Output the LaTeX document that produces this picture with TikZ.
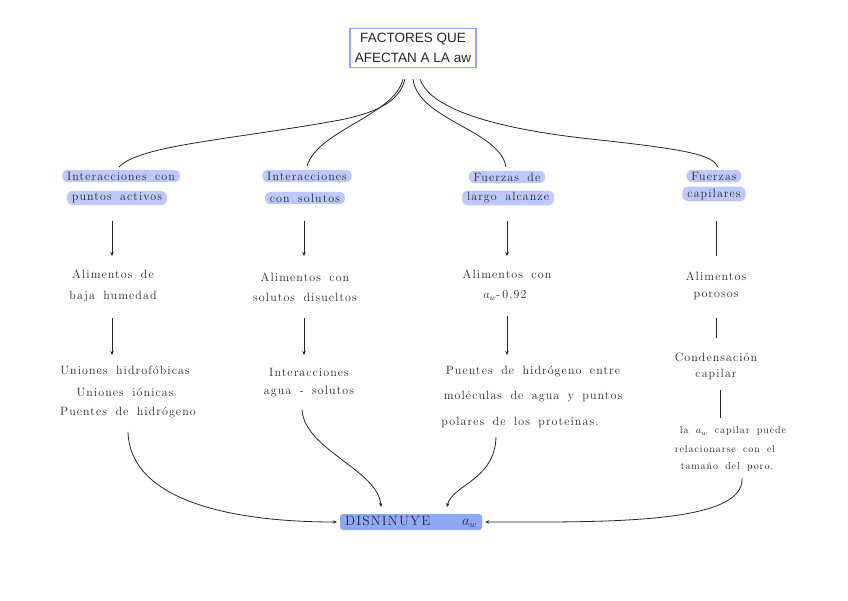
\documentclass[tikz,border=0pt]{standalone}
\usepackage{fontspec}
\newfontfamily\titlefont{Liberation Sans}
\newfontfamily\handfont{Latin Modern Roman}[LetterSpace=9.0, WordSpace=1.7]
\usetikzlibrary{arrows.meta}
\definecolor{hl}{HTML}{BCC9FA}
\definecolor{hldark}{HTML}{8FA8F6}
\definecolor{boxblue}{HTML}{8CA4F2}
\tikzset{
  hand/.style={font=\handfont\fontsize{12}{14}\selectfont, inner sep=1pt, text=black!85},
  small/.style={hand, font=\handfont\fontsize{10}{12}\selectfont},
  pill/.style={hand, fill=hl, rounded corners=6pt, inner xsep=5pt, inner ysep=2pt},
  conn/.style={line width=0.8pt, black!85},
  arr/.style={conn, -{Stealth[length=4pt,width=3.5pt]}},
}
\begin{document}
\begin{tikzpicture}[x=1pt,y=-1pt]
\useasboundingbox[fill=white] (0,0) rectangle (848,600);

% title
\node[draw=boxblue, line width=1.2pt, inner xsep=5pt, inner ysep=5pt, align=center,
      font=\titlefont\fontsize{13.5}{20}\selectfont, text=black!85] (title) at (413,48)
      {FACTORES QUE\\AFECTAN A LA aw};

% level 1
\node[pill] (a1) at (121,176) {Interacciones con};
\node[pill] (a2) at (117,198) {puntos activos};
\node[pill] (b1) at (307,176) {Interacciones};
\node[pill] (b2) at (305,198) {con solutos};
\node[pill] (c1) at (507,177) {Fuerzas de};
\node[pill] (c2) at (508,198) {largo alcanze};
\node[pill] (d1) at (714,176) {Fuerzas};
\node[pill] (d2) at (714,194) {capilares};

% level 2
\node[hand] (a3) at (113,274) {Alimentos de};
\node[hand] (a4) at (113,297) {baja humedad};
\node[hand] (b3) at (305,277) {Alimentos con};
\node[hand] (b4) at (305,297) {solutos disueltos};
\node[hand] (c3) at (507,274) {Alimentos con};
\node[hand] (c4) at (505,296) {$a_w$-\,0,92};
\node[hand] (d3) at (716,276) {Alimentos};
\node[hand] (d4) at (716,296) {porosos};

% level 3
\node[hand] (a5) at (125,370) {Uniones hidrofóbicas};
\node[hand] (a6) at (125,392) {Uniones iónicas};
\node[hand] (a7) at (128,413) {Puentes de hidrógeno};
\node[hand] (b5) at (309,372) {Interacciones};
\node[hand] (b6) at (309,392) {agua - solutos};
\node[hand] (c5) at (533,372) {Puentes de hidrógeno entre};
\node[hand] (c6) at (533,397) {moléculas de agua y puntos};
\node[hand] (c7) at (520,422) {polares de los proteínas.};
\node[hand] (d5) at (716,357) {Condensación};
\node[hand] (d6) at (716,374) {capilar};
\node[small] (d7) at (733,431) {la $a_w$ capilar puede};
\node[small] (d8) at (725,449) {relacionarse con el};
\node[small] (d9) at (727,467) {tamaño del poro.};

% bottom
\node[font=\handfont\fontsize{13.5}{15}\selectfont, text=black!85, fill=hldark,
      rounded corners=3pt, inner xsep=0pt, inner ysep=0pt,
      minimum width=142pt, minimum height=16pt] (dis) at (411,522)
      {\makebox[132pt][s]{DISNINUYE\hfill$a_w$}};

% coordinates for free ends
\coordinate (t1) at (405,79);
\coordinate (t2) at (403,79);
\coordinate (t3) at (413,79);
\coordinate (t4) at (420,79);
\coordinate (e1) at (119,167);
\coordinate (e2) at (307,166);
\coordinate (e3) at (506,167);
\coordinate (e4) at (718,167);

% top curves
\draw[conn] (t1) .. controls (400,100) and (380,112) .. (340,120)
               .. controls (230,140) and (140,145) .. (e1);
\draw[conn] (t2) .. controls (395,115) and (318,130) .. (e2);
\draw[conn] (t3) .. controls (418,120) and (500,130) .. (e3);
\draw[conn] (t4) .. controls (430,110) and (500,130) .. (600,140)
               .. controls (690,150) and (712,155) .. (e4);

% vertical arrows
\coordinate (va1) at (112,221); \coordinate (va2) at (112,256);
\coordinate (vb1) at (304,221); \coordinate (vb2) at (304,256);
\coordinate (vc1) at (507,221); \coordinate (vc2) at (507,256);
\coordinate (vd1) at (716,221); \coordinate (vd2) at (716,256);
\draw[arr] (va1) -- (va2);
\draw[arr] (vb1) -- (vb2);
\draw[arr] (vc1) -- (vc2);
\draw[conn] (vd1) -- (vd2);

\coordinate (wa1) at (112,318); \coordinate (wa2) at (112,355);
\coordinate (wb1) at (304,318); \coordinate (wb2) at (304,355);
\coordinate (wc1) at (507,316); \coordinate (wc2) at (507,355);
\coordinate (wd1) at (716,318); \coordinate (wd2) at (716,338);
\coordinate (xd1) at (720,390); \coordinate (xd2) at (720,418);
\draw[arr] (wa1) -- (wa2);
\draw[arr] (wb1) -- (wb2);
\draw[arr] (wc1) -- (wc2);
\draw[conn] (wd1) -- (wd2);
\draw[conn] (xd1) -- (xd2);

% bottom curves
\coordinate (s1) at (128,432);
\coordinate (s2) at (302,410);
\coordinate (s3) at (496,437);
\coordinate (s4) at (742,478);
\coordinate (f2) at (381,507);
\coordinate (f3) at (447,507);
\draw[arr] (s1) .. controls (130,500) and (230,522) .. ([xshift=-3pt]dis.west);
\draw[arr] (s2) .. controls (305,450) and (378,470) .. (f2);
\draw[arr] (s3) .. controls (495,480) and (452,485) .. (f3);
\draw[arr] (s4) .. controls (745,525) and (600,522) .. ([xshift=3pt]dis.east);
\end{tikzpicture}
\end{document}
